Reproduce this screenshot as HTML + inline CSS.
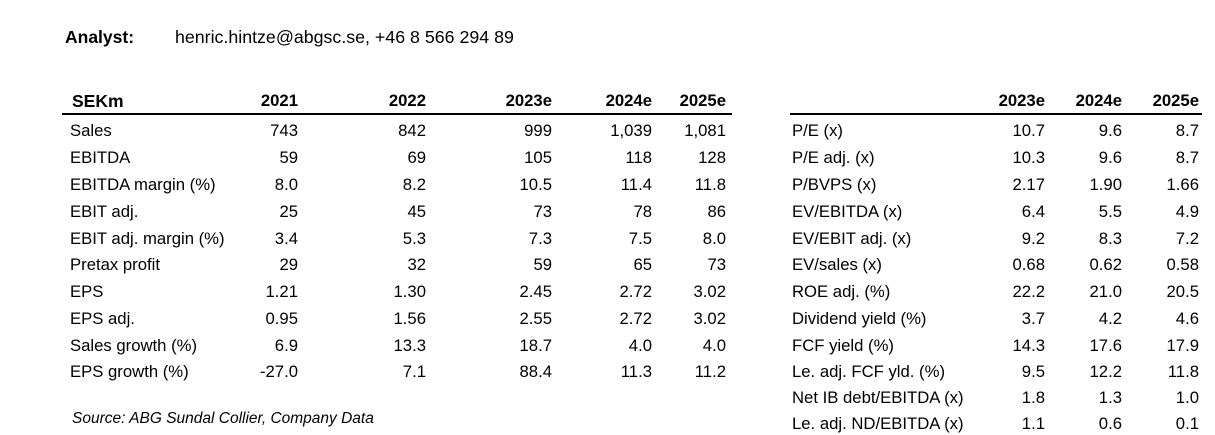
<!DOCTYPE html>
<html><head><meta charset="utf-8"><style>
body{margin:0;width:1215px;height:435px;background:#fff;position:relative;font-family:"Liberation Sans",Arial,sans-serif;color:#000;overflow:hidden}
.t{position:absolute;font-size:16.7px;line-height:18px;white-space:nowrap}
.r{position:absolute;height:18px;left:0;width:1215px}
.r span{position:absolute;font-size:16.7px;line-height:18px;white-space:nowrap}
.b{font-weight:bold}
.ln{position:absolute;height:2px;background:#000;top:113px}
</style></head><body>
<div class="t b" style="left:65px;top:28px;font-size:17.5px">Analyst:</div>
<div class="t" style="left:175px;top:28px;font-size:17.8px">henric.hintze@abgsc.se, +46 8 566 294 89</div>

<div class="r b" style="top:92px">
<span style="left:72px;font-size:17.5px">SEKm</span>
<span style="right:917px">2021</span><span style="right:789px">2022</span><span style="right:663px">2023e</span><span style="right:563px">2024e</span><span style="right:489px">2025e</span>
<span style="right:170px">2023e</span><span style="right:93px">2024e</span><span style="right:16px">2025e</span>
</div>
<div class="ln" style="left:62px;width:670px"></div>
<div class="ln" style="left:790px;width:412px"></div>

<div class="r" style="top:122px"><span style="left:70px">Sales</span><span style="right:917px">743</span><span style="right:789px">842</span><span style="right:663px">999</span><span style="right:563px">1,039</span><span style="right:489px">1,081</span>
<span style="left:792px">P/E (x)</span><span style="right:170px">10.7</span><span style="right:93px">9.6</span><span style="right:16px">8.7</span></div>
<div class="r" style="top:149px"><span style="left:70px">EBITDA</span><span style="right:917px">59</span><span style="right:789px">69</span><span style="right:663px">105</span><span style="right:563px">118</span><span style="right:489px">128</span>
<span style="left:792px">P/E adj. (x)</span><span style="right:170px">10.3</span><span style="right:93px">9.6</span><span style="right:16px">8.7</span></div>
<div class="r" style="top:176px"><span style="left:70px">EBITDA margin (%)</span><span style="right:917px">8.0</span><span style="right:789px">8.2</span><span style="right:663px">10.5</span><span style="right:563px">11.4</span><span style="right:489px">11.8</span>
<span style="left:792px">P/BVPS (x)</span><span style="right:170px">2.17</span><span style="right:93px">1.90</span><span style="right:16px">1.66</span></div>
<div class="r" style="top:203px"><span style="left:70px">EBIT adj.</span><span style="right:917px">25</span><span style="right:789px">45</span><span style="right:663px">73</span><span style="right:563px">78</span><span style="right:489px">86</span>
<span style="left:792px">EV/EBITDA (x)</span><span style="right:170px">6.4</span><span style="right:93px">5.5</span><span style="right:16px">4.9</span></div>
<div class="r" style="top:230px"><span style="left:70px">EBIT adj. margin (%)</span><span style="right:917px">3.4</span><span style="right:789px">5.3</span><span style="right:663px">7.3</span><span style="right:563px">7.5</span><span style="right:489px">8.0</span>
<span style="left:792px">EV/EBIT adj. (x)</span><span style="right:170px">9.2</span><span style="right:93px">8.3</span><span style="right:16px">7.2</span></div>
<div class="r" style="top:256px"><span style="left:70px">Pretax profit</span><span style="right:917px">29</span><span style="right:789px">32</span><span style="right:663px">59</span><span style="right:563px">65</span><span style="right:489px">73</span>
<span style="left:792px">EV/sales (x)</span><span style="right:170px">0.68</span><span style="right:93px">0.62</span><span style="right:16px">0.58</span></div>
<div class="r" style="top:283px"><span style="left:70px">EPS</span><span style="right:917px">1.21</span><span style="right:789px">1.30</span><span style="right:663px">2.45</span><span style="right:563px">2.72</span><span style="right:489px">3.02</span>
<span style="left:792px">ROE adj. (%)</span><span style="right:170px">22.2</span><span style="right:93px">21.0</span><span style="right:16px">20.5</span></div>
<div class="r" style="top:310px"><span style="left:70px">EPS adj.</span><span style="right:917px">0.95</span><span style="right:789px">1.56</span><span style="right:663px">2.55</span><span style="right:563px">2.72</span><span style="right:489px">3.02</span>
<span style="left:792px">Dividend yield (%)</span><span style="right:170px">3.7</span><span style="right:93px">4.2</span><span style="right:16px">4.6</span></div>
<div class="r" style="top:337px"><span style="left:70px">Sales growth (%)</span><span style="right:917px">6.9</span><span style="right:789px">13.3</span><span style="right:663px">18.7</span><span style="right:563px">4.0</span><span style="right:489px">4.0</span>
<span style="left:792px">FCF yield (%)</span><span style="right:170px">14.3</span><span style="right:93px">17.6</span><span style="right:16px">17.9</span></div>
<div class="r" style="top:363px"><span style="left:70px">EPS growth (%)</span><span style="right:917px">-27.0</span><span style="right:789px">7.1</span><span style="right:663px">88.4</span><span style="right:563px">11.3</span><span style="right:489px">11.2</span>
<span style="left:792px">Le. adj. FCF yld. (%)</span><span style="right:170px">9.5</span><span style="right:93px">12.2</span><span style="right:16px">11.8</span></div>
<div class="r" style="top:389px"><span style="left:792px">Net IB debt/EBITDA (x)</span><span style="right:170px">1.8</span><span style="right:93px">1.3</span><span style="right:16px">1.0</span></div>
<div class="r" style="top:415px"><span style="left:792px">Le. adj. ND/EBITDA (x)</span><span style="right:170px">1.1</span><span style="right:93px">0.6</span><span style="right:16px">0.1</span></div>

<div class="t" style="left:72px;top:410px;font-size:15.5px;font-style:italic">Source: ABG Sundal Collier, Company Data</div>
</body></html>
